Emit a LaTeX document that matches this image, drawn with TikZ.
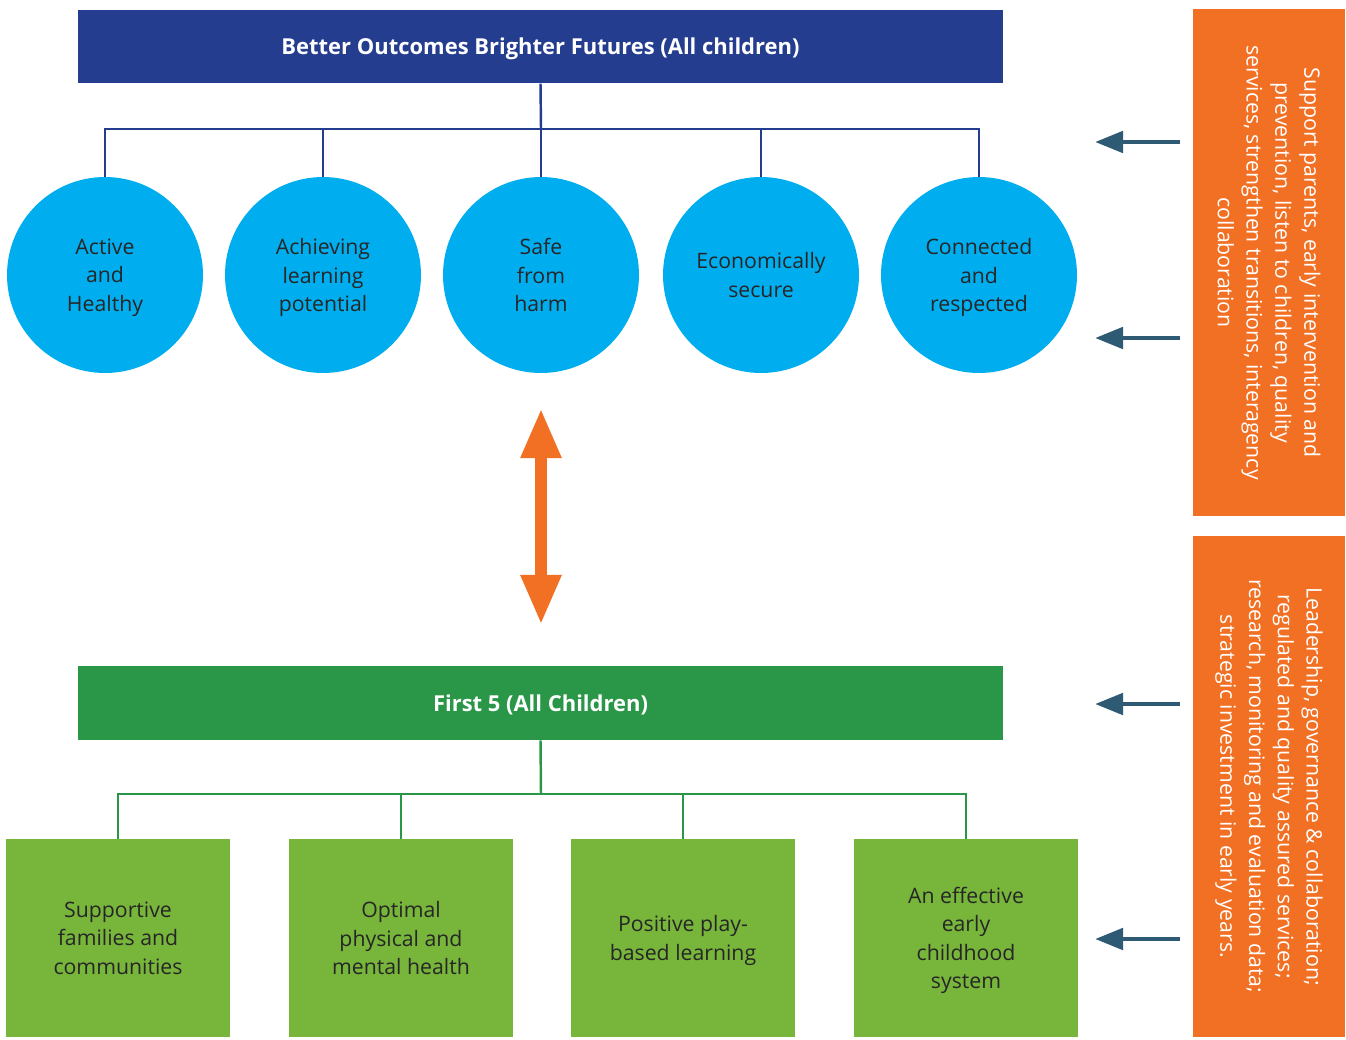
\documentclass[tikz,border=0pt]{standalone}
\usepackage{fontspec}
\setmainfont{Open Sans}
\usetikzlibrary{arrows.meta}

\definecolor{bobfblue}{RGB}{37,61,143}
\definecolor{outcomecyan}{RGB}{0,174,239}
\definecolor{firstgreen}{RGB}{42,150,72}
\definecolor{leafgreen}{RGB}{120,181,59}
\definecolor{supportorange}{RGB}{242,112,35}
\definecolor{slatearrow}{RGB}{46,90,116}
\definecolor{bodytext}{RGB}{38,38,38}

\begin{document}
\begin{tikzpicture}[x=0.02cm,y=-0.02cm,
  headbar/.style={minimum width=18.5cm,minimum height=1.47cm,inner sep=0pt,text depth=0pt,
    text=white,font=\bfseries\fontsize{12.5}{14}\selectfont},
  outcome/.style={circle,fill=outcomecyan,minimum size=3.92cm,inner sep=0pt,text depth=0pt,
    align=center,text=bodytext,font=\fontsize{12.1}{16.2}\selectfont},
  leaf/.style={fill=leafgreen,minimum width=4.48cm,minimum height=3.96cm,inner sep=0pt,text depth=0pt,
    align=center,text=bodytext,font=\fontsize{12.1}{16.2}\selectfont},
  enabler/.style={fill=supportorange,rotate=-90,minimum height=3.04cm,inner sep=0pt,
    align=center,text=white,font=\fontsize{12.1}{16.4}\selectfont},
  twoway/.style={supportorange,line width=6.8pt,{Triangle[width=21.5pt,length=28.3pt]}-{Triangle[width=21.5pt,length=28.3pt]}},
  sidearrow/.style={slatearrow,line width=2.8pt,-{Triangle[width=12pt,length=16pt]}}]
\useasboundingbox (0,0) rectangle (1346,1039);

\node[headbar,fill=bobfblue] (bobf) at (540.5,46.5) {Better Outcomes Brighter Futures (All children)};
\node[outcome] (c1) at (105,275) {Active\\and\\Healthy};
\node[outcome] (c2) at (323,275) {Achieving\\learning\\potential};
\node[outcome] (c3) at (541,275) {Safe\\from\\harm};
\node[outcome] (c4) at (761,275) {Economically\\secure};
\node[outcome] (c5) at (979,275) {Connected\\and\\respected}; % five outcomes
\coordinate (bus) at (541,129);
\draw[bobfblue,line width=1.4pt] (bobf.south) -- (bus);
\draw[bobfblue,line width=1.4pt] (c1.north) -- (c1.north |- bus) -- (c5.north |- bus) -- (c5.north);
\foreach \c in {c2,c3,c4}
  \draw[bobfblue,line width=1.4pt] (\c.north) -- (\c.north |- bus); % blue tree

\node[headbar,fill=firstgreen,minimum height=1.48cm] (first5) at (540.5,703) {First 5 (All Children)};
\node[leaf] (g1) at (118,938) {Supportive\\families and\\communities};
\node[leaf] (g2) at (401,938) {Optimal\\physical and\\mental health};
\node[leaf] (g3) at (683,938) {Positive play-\\based learning};
\node[leaf] (g4) at (966,938) {An effective\\early\\childhood\\system}; % four aims
\coordinate (gbus) at (541,794);
\draw[firstgreen,line width=1.4pt] (first5.south) -- (gbus);
\draw[firstgreen,line width=1.4pt] (g1.north) -- (g1.north |- gbus) -- (g4.north |- gbus) -- (g4.north);
\foreach \g in {g2,g3}
  \draw[firstgreen,line width=1.4pt] (\g.north) -- (\g.north |- gbus); % green tree

\draw[twoway,shorten <=0.7cm,shorten >=0.82cm] (c3.south) -- (c3.south |- first5.north);

\node[enabler,minimum width=10.14cm] (ob1) at (1269,262.5)
  {Support parents, early intervention and\\prevention, listen to children, quality\\services, strengthen transitions, interagency\\collaboration};
\node[enabler,minimum width=10.02cm] (ob2) at (1269,786.5)
  {Leadership, governance \& collaboration;\\regulated and quality assured services;\\research, monitoring and evaluation data;\\strategic investment in early years.}; % side boxes
\foreach \y [count=\i] in {142,338,704,939} {
  \coordinate (t\i) at (1180,\y);
  \coordinate (h\i) at (1095,\y);
  \draw[sidearrow] (t\i) -- (h\i);
}
\end{tikzpicture}
\end{document}
